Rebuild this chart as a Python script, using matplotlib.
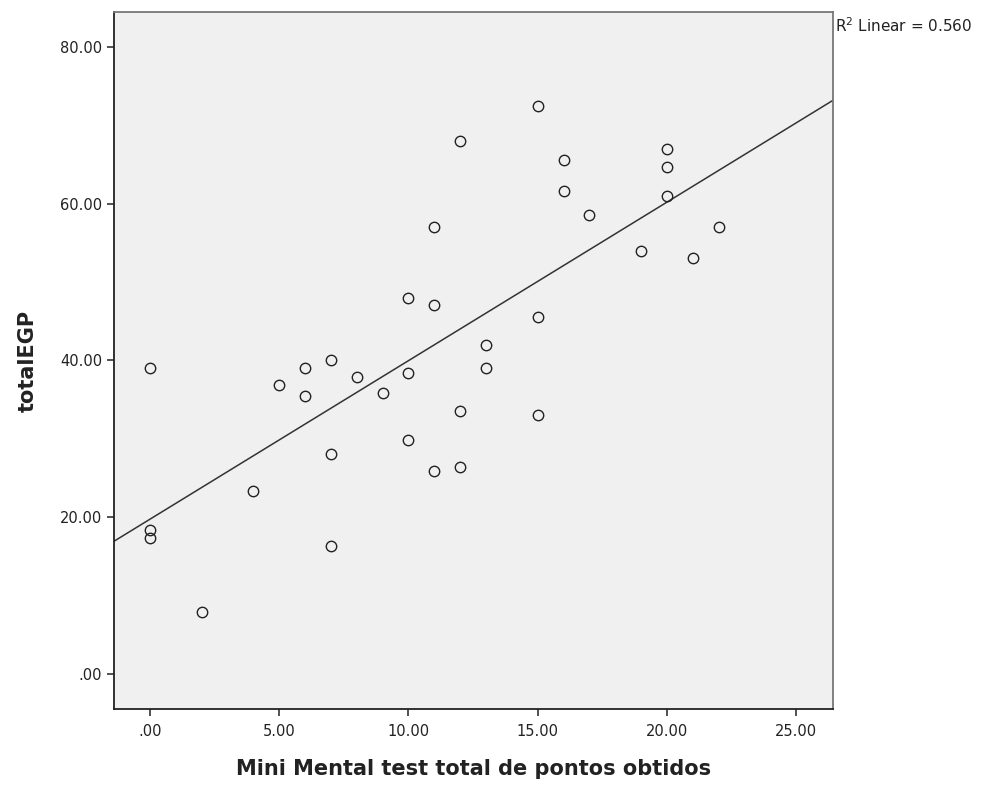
import matplotlib
matplotlib.use('Agg')
import matplotlib.pyplot as plt
import numpy as np

# Mini Mental score vs totalEGP
mini_mental = [0, 0, 0, 2, 4, 5, 6, 6, 7, 7, 7, 8, 9, 10, 10, 10, 11, 11, 11,
               12, 12, 12, 13, 13, 15, 15, 15, 16, 16, 17, 19, 20, 20, 20, 21, 22]
total_egp = [39, 18.4, 17.4, 7.9, 23.4, 36.9, 39, 35.4, 40, 28, 16.3, 37.9, 35.9,
             47.9, 38.4, 29.9, 57, 47, 25.9, 68, 33.5, 26.4, 41.9, 39, 72.5, 45.5,
             33, 65.5, 61.6, 58.5, 54, 67, 64.6, 61, 53, 57]
x_ticks = [0, 5, 10, 15, 20, 25]
x_tick_labels = ['.00', '5.00', '10.00', '15.00', '20.00', '25.00']
y_ticks = [0, 20, 40, 60, 80]
y_tick_labels = ['.00', '20.00', '40.00', '60.00', '80.00']
r2_label = r'R$^2$ Linear = 0.560'

fig = plt.figure(figsize=(9.96, 7.87), dpi=100)
ax = fig.add_axes([0.1145, 0.0991, 0.7218, 0.8857])
ax.set_facecolor('#f0f0f0')

xlim = (-1.39, 26.42)
ylim = (-4.46, 84.43)

# linear fit line across the full x range
slope, intercept = np.polyfit(mini_mental, total_egp, 1)
xs = np.array(xlim)
ax.plot(xs, slope * xs + intercept, color='#333333', linewidth=1.1, zorder=2)

ax.plot(mini_mental, total_egp, linestyle='none', marker='o', markersize=7.5,
        markerfacecolor='none', markeredgecolor='#222222', markeredgewidth=1.0,
        zorder=3)

ax.set_xlim(xlim)
ax.set_ylim(ylim)
ax.set_xticks(x_ticks)
ax.set_xticklabels(x_tick_labels)
ax.set_yticks(y_ticks)
ax.set_yticklabels(y_tick_labels)
ax.tick_params(axis='both', labelsize=10.5, length=5, width=1.2, color='#333333',
               labelcolor='#222222')
ax.tick_params(axis='x', pad=6)

for side in ['left', 'bottom']:
    ax.spines[side].set_color('#222222')
    ax.spines[side].set_linewidth(1.3)
for side in ['top', 'right']:
    ax.spines[side].set_color('#777777')
    ax.spines[side].set_linewidth(1.3)

ax.set_xlabel('Mini Mental test total de pontos obtidos', fontsize=15,
              fontweight='bold', color='#222222', labelpad=14)
ax.set_ylabel('totalEGP', fontsize=15, fontweight='bold', color='#222222',
              labelpad=16)

fig.text(0.8383, 0.968, r2_label, fontsize=11, color='#222222', ha='left',
         va='center')

fig.savefig('out.png', dpi=100)
